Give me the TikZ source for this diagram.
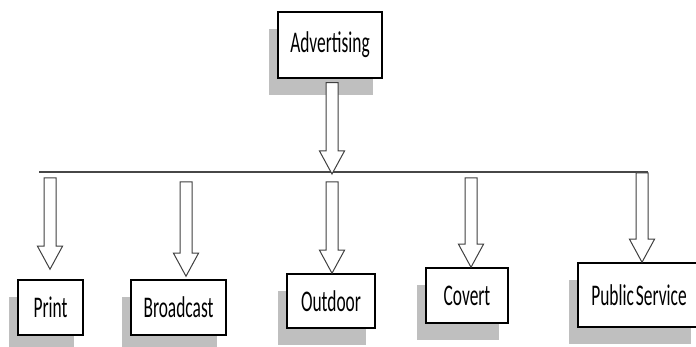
\documentclass[tikz,border=0pt]{standalone}
\usepackage{fontspec}
\setmainfont{Carlito}
\usepackage{graphicx}
\usetikzlibrary{calc, shadows}
\newcommand{\narrow}[1]{\scalebox{0.58}[1]{#1}}
\tikzset{
  box/.style={rectangle, draw, line width=1.5pt, fill=white, inner sep=0pt,
              font=\fontsize{30}{32}\selectfont,
              drop shadow={shadow xshift=-9pt, shadow yshift=-17pt,
                           fill=black!25, opacity=1}},
  bar/.style={line width=2pt, draw=black!72},
  hollow/.style={draw=black!75, line width=1pt, fill=white,
    to path={let \p1=(\tikztostart), \p2=(\tikztotarget) in
      (\x2-6pt,\y1) -- (\x2-6pt,\y2+23pt) -- (\x2-12.5pt,\y2+23pt) -- (\x2,\y2)
      -- (\x2+12.5pt,\y2+23pt) -- (\x2+6pt,\y2+23pt) -- (\x2+6pt,\y1) -- cycle}},
}
\begin{document}
\begin{tikzpicture}[x=1pt, y=-1pt]
  \useasboundingbox (0,0) rectangle (696,347);
  % top box and bar
  \node[box, minimum width=104pt, minimum height=66pt] (ad) at (330,45) {\raisebox{5pt}{\narrow{Advertising}}};
  \coordinate (barL) at (39,172);
  \coordinate (barR) at (648,172);
  \coordinate (hub) at (332,174);
  \draw[bar] (barL) -- (barR);
  \draw[hollow] ([yshift=-4pt]ad.south) to (hub);
  % children
  \node[box, minimum width=65pt, minimum height=55pt] (pr) at (50.5,307.5) {\narrow{Print}};
  \node[box, minimum width=95pt, minimum height=55pt] (bc) at (178.5,307.5) {\narrow{Broadcast}};
  \node[box, minimum width=88pt, minimum height=54pt] (od) at (331,301) {\narrow{Outdoor}};
  \node[box, minimum width=82pt, minimum height=55pt] (cv) at (467,295.5) {\narrow{Covert}};
  \node[box, minimum width=122pt, minimum height=64pt] (ps) at (639,295) {\narrow{Public\hspace{0.12em}Service}};
  \coordinate (t1) at (50,178);
  \coordinate (t2) at (186,182);
  \coordinate (t3) at (332,182);
  \coordinate (t4) at (471,178);
  \coordinate (t5) at (642,173);
  \draw[hollow] (t1) to ($(t1 |- pr.north)+(0,-10)$);
  \draw[hollow] (t2) to ($(t2 |- bc.north)+(0,-3)$);
  \draw[hollow] (t3) to (t3 |- od.north);
  \draw[hollow] (t4) to (t4 |- cv.north);
  \draw[hollow] (t5) to (t5 |- ps.north);
\end{tikzpicture}
\end{document}
